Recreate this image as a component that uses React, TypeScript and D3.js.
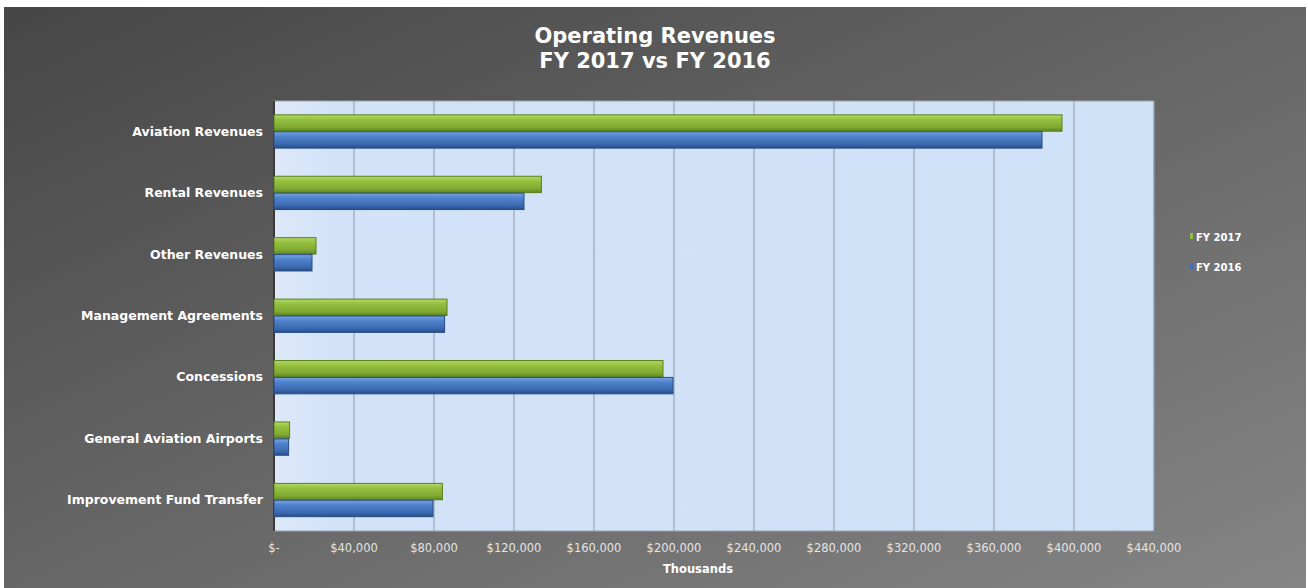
import React from "react";
import * as d3 from "d3";

const categories = [
  "Aviation Revenues",
  "Rental Revenues",
  "Other Revenues",
  "Management Agreements",
  "Concessions",
  "General Aviation Airports",
  "Improvement Fund Transfer",
];
const seriesNames = ["FY 2017", "FY 2016"];
const fy2017 = [394000, 133700, 21000, 86500, 194500, 7800, 84200];
const fy2016 = [384000, 125000, 19000, 85300, 199500, 7300, 79500];
const tickValues = [0, 40000, 80000, 120000, 160000, 200000, 240000, 280000, 320000, 360000, 400000, 440000];

const W = 1308;
const H = 588;
const plot = { left: 274, right: 1154, top: 101, bottom: 531 };
const FONT = "'DejaVu Sans', Verdana, sans-serif";

export default function App() {
  const x = d3.scaleLinear().domain([0, 440000]).range([plot.left, plot.right]);
  const y = d3.scaleBand().domain(categories).range([plot.top, plot.bottom]).paddingInner(0.45).paddingOuter(0.225);
  const ys = d3.scaleBand().domain(seriesNames).range([0, y.bandwidth()]).padding(0);
  const values: Record<string, number[]> = { "FY 2017": fy2017, "FY 2016": fy2016 };
  const fills: Record<string, string> = { "FY 2017": "url(#gGreen)", "FY 2016": "url(#gBlue)" };
  const strokes: Record<string, string> = { "FY 2017": "#5a7f1e", "FY 2016": "#284c82" };
  const legendColors: Record<string, string> = { "FY 2017": "#8cbf3f", "FY 2016": "#3f6fb8" };
  const fmt = (v: number) => (v === 0 ? "$-" : "$" + d3.format(",")(v));

  return (
    <svg width={W} height={H} style={{ position: "absolute", left: 0, top: 0, display: "block" }}>
      <defs>
        <linearGradient id="bg" x1="0" y1="0" x2="1" y2="1">
          <stop offset="0" stopColor="#464646" />
          <stop offset="0.5" stopColor="#666666" />
          <stop offset="1" stopColor="#858585" />
        </linearGradient>
        <linearGradient id="gGreen" x1="0" y1="0" x2="0" y2="1">
          <stop offset="0" stopColor="#b4d862" />
          <stop offset="0.3" stopColor="#93c040" />
          <stop offset="0.75" stopColor="#80aa32" />
          <stop offset="1" stopColor="#5c8620" />
        </linearGradient>
        <linearGradient id="gBlue" x1="0" y1="0" x2="0" y2="1">
          <stop offset="0" stopColor="#76a2e2" />
          <stop offset="0.3" stopColor="#4f82cc" />
          <stop offset="0.75" stopColor="#3b6ab0" />
          <stop offset="1" stopColor="#264d8a" />
        </linearGradient>
        <linearGradient id="plotBg" x1="0" y1="0" x2="1" y2="0">
          <stop offset="0" stopColor="#dde8f8" />
          <stop offset="0.07" stopColor="#d2e3f8" />
          <stop offset="1" stopColor="#d0e2f7" />
        </linearGradient>
      </defs>
      <rect x={0} y={0} width={W} height={H} fill="#ffffff" />
      <rect x={4} y={7} width={W - 6} height={H - 7} fill="url(#bg)" />

      <text x={655} y={43} textAnchor="middle" fill="#ffffff" fontFamily={FONT} fontWeight="bold" fontSize={21}>
        Operating Revenues
      </text>
      <text x={655} y={68} textAnchor="middle" fill="#ffffff" fontFamily={FONT} fontWeight="bold" fontSize={21}>
        FY 2017 vs FY 2016
      </text>

      <rect x={plot.left} y={plot.top} width={plot.right - plot.left} height={plot.bottom - plot.top} fill="url(#plotBg)" stroke="#9aa3ae" strokeWidth={1} />

      {tickValues.slice(1).map((t) => (
        <line key={t} x1={x(t)} x2={x(t)} y1={plot.top} y2={plot.bottom} stroke="#8e98a6" strokeWidth={1} />
      ))}
      <line x1={plot.left} x2={plot.left} y1={plot.top} y2={plot.bottom} stroke="#3a3a3a" strokeWidth={2} />

      {categories.map((c, i) =>
        seriesNames.map((s) => (
          <rect
            key={c + s}
            x={x(0)}
            y={(y(c) as number) + (ys(s) as number)}
            width={x(values[s][i]) - x(0)}
            height={ys.bandwidth() - 0.5}
            fill={fills[s]}
            stroke={strokes[s]}
            strokeWidth={1}
          />
        ))
      )}

      {categories.map((c) => (
        <text
          key={c}
          x={263}
          y={(y(c) as number) + y.bandwidth() / 2 + 4}
          textAnchor="end"
          fill="#ffffff"
          fontFamily={FONT}
          fontWeight="bold"
          fontSize={12.5}
        >
          {c}
        </text>
      ))}

      {tickValues.map((t) => (
        <text key={t} x={x(t)} y={552} textAnchor="middle" fill="#e4e4e4" fontFamily={FONT} fontSize={11.5}>
          {fmt(t)}
        </text>
      ))}
      <text x={698} y={573} textAnchor="middle" fill="#ffffff" fontFamily={FONT} fontWeight="bold" fontSize={11.5}>
        Thousands
      </text>

      {seriesNames.map((s, i) => (
        <g key={s}>
          <rect x={1190} y={233 + i * 30} width={3} height={6} fill={legendColors[s]} />
          <text x={1196} y={241 + i * 30} fill="#ffffff" fontFamily={FONT} fontWeight="bold" fontSize={10}>
            {s}
          </text>
        </g>
      ))}
    </svg>
  );
}
